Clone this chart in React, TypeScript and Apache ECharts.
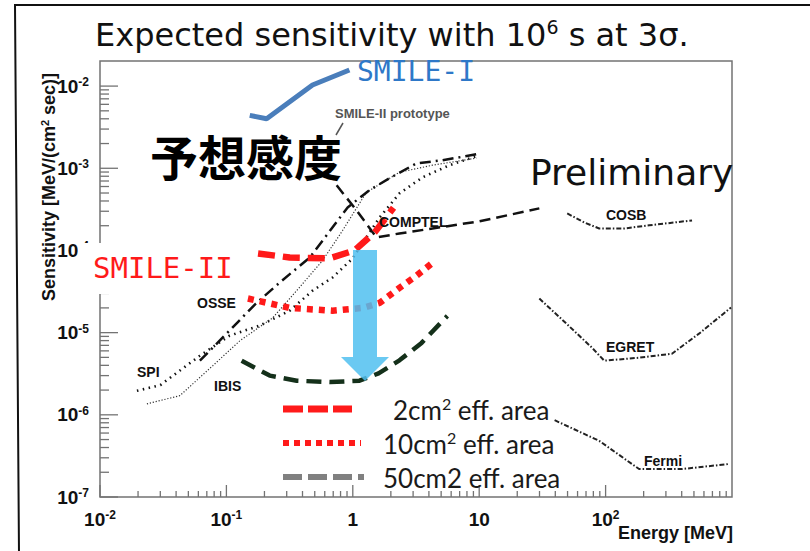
import React, { useEffect, useRef } from "react";
import * as echarts from "echarts";

// ---------- data (Energy [MeV], Sensitivity [MeV/(cm^2 s)]) ----------
const SMILE1_E = [0.153, 0.208, 0.48, 0.94];
const SMILE1_S = [4.4e-3, 4.0e-3, 1.03e-2, 1.57e-2];

const SMILE2_2CM_E = [0.178, 0.317, 0.656, 1.03, 1.49, 2.1];
const SMILE2_2CM_S = [9.2e-5, 8.2e-5, 8.0e-5, 1.0e-4, 1.66e-4, 3.3e-4];

const SMILE2_10CM_E = [0.148, 0.317, 0.69, 1.2, 1.63, 2.34, 3.2, 4.19];
const SMILE2_10CM_S = [2.6e-5, 2.0e-5, 1.85e-5, 2.0e-5, 2.3e-5, 3.5e-5, 4.95e-5, 6.9e-5];

const SMILE2_50CM_E = [0.132, 0.17, 0.22, 0.36, 0.66, 1.13, 1.6, 2.34, 3.5, 5.6];
const SMILE2_50CM_S = [4.56e-6, 3.7e-6, 3.0e-6, 2.6e-6, 2.5e-6, 2.6e-6, 3.2e-6, 4.6e-6, 7.5e-6, 1.6e-5];

const SPI_E = [0.0196, 0.03, 0.0617, 0.106, 0.184, 0.317, 0.481, 0.692, 0.996, 1.63, 2.34, 3.56, 5.82, 10.0];
const SPI_S = [1.96e-6, 2.3e-6, 5.24e-6, 9.19e-6, 1.22e-5, 1.85e-5, 3.25e-5, 4.69e-5, 8.0e-5, 2.52e-4, 4.95e-4, 7.76e-4, 1.09e-3, 1.44e-3];

const IBIS_E = [0.0235, 0.0428, 0.078, 0.128, 0.233, 0.36, 0.577, 0.83, 1.28, 2.34, 4.27, 9.5];
const IBIS_S = [1.36e-6, 1.71e-6, 3.96e-6, 7.98e-6, 1.52e-5, 3.25e-5, 7.55e-5, 1.75e-4, 5.09e-4, 8.94e-4, 1.09e-3, 1.33e-3];

const OSSE_E = [0.0617, 0.106, 0.171, 0.264, 0.456, 0.577, 0.91, 1.35, 1.95, 3.19, 5.12, 9.5];
const OSSE_S = [4.56e-6, 1.06e-5, 2.26e-5, 4.07e-5, 8.2e-5, 1.32e-4, 3.34e-4, 5.4e-4, 7.55e-4, 1.15e-3, 1.25e-3, 1.48e-3];

const COMPTEL_E = [0.745, 1.07, 1.54, 2.34, 4.27, 10, 29.9];
const COMPTEL_S = [6.2e-4, 3.08e-4, 1.44e-4, 1.61e-4, 1.85e-4, 2.26e-4, 3.25e-4];

const COSB_E = [49.7, 67.8, 89, 140, 221, 483];
const COSB_S = [2.82e-4, 2.19e-4, 1.85e-4, 1.85e-4, 2.02e-4, 2.32e-4];

const EGRET_E = [29.9, 48.9, 78, 97.5, 184, 335, 548, 982];
const EGRET_S = [2.6e-5, 1.29e-5, 6.56e-6, 4.56e-6, 4.95e-6, 5.54e-6, 9.72e-6, 2.02e-5];

const FERMI_E = [39.5, 89, 184, 403, 946];
const FERMI_S = [8.6e-7, 4.82e-7, 2.19e-7, 2.19e-7, 2.52e-7];

// axes
const X_MIN = 0.01;
const X_MAX = 1000;
const Y_MIN = 1e-7;
const Y_MAX = 0.0202;
const X_DECADES = [0.01, 0.1, 1, 10, 100];
const Y_DECADES = [1e-7, 1e-6, 1e-5, 1e-4, 1e-3, 1e-2];
const MINOR_STEPS = [2, 3, 4, 5, 6, 7, 8, 9];
const X_TICK_LABELS: Record<number, string> = {
  [-2]: "{b|10}{s|-2}",
  [-1]: "{b|10}{s|-1}",
  0: "{b|1}",
  1: "{b|10}",
  2: "{b|10}{s|2}",
};
const Y_TICK_LABELS: Record<number, string> = {
  [-7]: "{b|10}{s|-7}",
  [-6]: "{b|10}{s|-6}",
  [-5]: "{b|10}{s|-5}",
  [-4]: "{b|10}{s|-4}",
  [-3]: "{b|10}{s|-3}",
  [-2]: "{b|10}{s|-2}",
};

const ARIAL = '"Liberation Sans", Arial, sans-serif';
const SANS = '"DejaVu Sans", sans-serif';
const MONO = '"DejaVu Sans Mono", monospace';
const CAL = 'Lato, "Open Sans", sans-serif';
const CJK = '"Noto Sans CJK JP", "Noto Sans CJK SC", sans-serif';

const zip = (a: number[], b: number[]) => a.map((v, i) => [v, b[i]]);

const tickRich = {
  b: { fontFamily: ARIAL, fontWeight: "bold", fontSize: 19, color: "#111", lineHeight: 20 },
  s: { fontFamily: ARIAL, fontWeight: "bold", fontSize: 12, color: "#111", verticalAlign: "top", lineHeight: 12 },
};

function fmt(table: Record<number, string>) {
  return (v: number) => {
    const e = Math.log10(v);
    const r = Math.round(e);
    if (Math.abs(e - r) > 1e-6) return "";
    return table[r] ?? "";
  };
}

function buildTicks() {
  const d: number[][] = [];
  X_DECADES.forEach((dec) => {
    d.push([dec, Y_MIN, 0]);
    MINOR_STEPS.forEach((m) => d.push([dec * m, Y_MIN, 1]));
  });
  Y_DECADES.forEach((dec) => {
    d.push([X_MIN, dec, 2]);
    MINOR_STEPS.forEach((m) => {
      if (dec * m < Y_MAX * 0.97) d.push([X_MIN, dec * m, 3]);
    });
  });
  return d;
}

function lineSeries(name: string, E: number[], S: number[], color: string, width: number, dash: any, z = 3) {
  return {
    name,
    type: "line",
    data: zip(E, S),
    showSymbol: false,
    symbol: "none",
    smooth: false,
    z,
    lineStyle: { color, width, type: dash, cap: "butt" },
  };
}

export default function App() {
  const ref = useRef<HTMLDivElement>(null);
  useEffect(() => {
    if (!ref.current) return;
    const chart = echarts.init(ref.current, null, { renderer: "svg" });
    const labelStyle = (text: string, x: number, y: number) => ({
      type: "text",
      x,
      y,
      z: 100,
      style: { text, fill: "#111", font: `bold 14px ${ARIAL}`, verticalAlign: "middle" },
    });
    const legendRich = {
      t: { fontFamily: CAL, fontSize: 26, fill: "#1a1a1a", lineHeight: 29 },
      s: { fontFamily: CAL, fontSize: 16, fill: "#1a1a1a", verticalAlign: "top", lineHeight: 16 },
    };
    const option: any = {
      animation: false,
      backgroundColor: "#fff",
      grid: {
        left: 100,
        right: 78,
        top: 61,
        bottom: 54,
        show: true,
        borderColor: "#737373",
        borderWidth: 1.5,
        backgroundColor: "transparent",
      },
      xAxis: {
        type: "log",
        logBase: 10,
        min: X_MIN,
        max: X_MAX,
        axisLine: { show: false },
        axisTick: { show: false },
        splitLine: { show: false },
        axisLabel: { margin: 12, formatter: fmt(X_TICK_LABELS), rich: tickRich, showMaxLabel: false },
      },
      yAxis: {
        type: "log",
        logBase: 10,
        min: Y_MIN,
        max: Y_MAX,
        axisLine: { show: false },
        axisTick: { show: false },
        splitLine: { show: false },
        axisLabel: { margin: 11, formatter: fmt(Y_TICK_LABELS), rich: tickRich },
      },
      series: [
        {
          type: "custom",
          silent: true,
          z: 2,
          renderItem: (params: any, api: any) => {
            const kind = api.value(2);
            const p = api.coord([api.value(0), api.value(1)]);
            let shape;
            if (kind === 0) shape = { x1: p[0], y1: p[1], x2: p[0], y2: p[1] - 12 };
            else if (kind === 1) shape = { x1: p[0], y1: p[1], x2: p[0], y2: p[1] - 6 };
            else if (kind === 2) shape = { x1: p[0], y1: p[1], x2: p[0] + 18, y2: p[1] };
            else shape = { x1: p[0], y1: p[1], x2: p[0] + 9, y2: p[1] };
            return { type: "line", shape, style: { stroke: "#737373", lineWidth: 1.3 } };
          },
          data: buildTicks(),
        },
        lineSeries("SPI", SPI_E, SPI_S, "#111", 2.6, [1.5, 4.5]),
        lineSeries("IBIS", IBIS_E, IBIS_S, "#333", 1.2, [1.2, 1.8]),
        lineSeries("OSSE", OSSE_E, OSSE_S, "#111", 2.5, [11, 5, 2, 5]),
        lineSeries("COMPTEL", COMPTEL_E, COMPTEL_S, "#111", 2.5, [11, 6]),
        lineSeries("COSB", COSB_E, COSB_S, "#222", 2, [5, 2, 1.5, 2]),
        lineSeries("EGRET", EGRET_E, EGRET_S, "#222", 2, [5, 2, 1.5, 2]),
        lineSeries("Fermi", FERMI_E, FERMI_S, "#222", 2, [5, 2, 1.5, 2]),
        lineSeries("SMILE-I", SMILE1_E, SMILE1_S, "#4a7ebb", 5, "solid", 4),
        lineSeries("2cm2", SMILE2_2CM_E, SMILE2_2CM_S, "#ff1a1a", 6.5, [17, 8], 4),
        lineSeries("10cm2", SMILE2_10CM_E, SMILE2_10CM_S, "#ff1a1a", 6.5, [6, 6], 4),
        lineSeries("50cm2", SMILE2_50CM_E, SMILE2_50CM_S, "#14301a", 4.5, [15, 8], 4),
      ],
      graphic: [
        // outer frame
        {
          type: "polyline",
          z: 100,
          shape: { points: [[815, 5], [15, 5], [19, 555]] },
          style: { stroke: "#111", lineWidth: 2, fill: null },
        },
        // title
        {
          type: "text",
          x: 95,
          y: 35,
          z: 100,
          style: {
            text: "{a|Expected sensitivity with 10}{p|6}{a| s at 3σ.}",
            verticalAlign: "middle",
            rich: {
              a: { fontFamily: SANS, fontSize: 32, fill: "#111", lineHeight: 36 },
              p: { fontFamily: SANS, fontSize: 19, fill: "#111", verticalAlign: "top", lineHeight: 19 },
            },
          },
        },
        // y axis name
        {
          type: "text",
          x: 49,
          y: 187,
          rotation: Math.PI / 2,
          z: 100,
          style: {
            text: "{n|Sensitivity [MeV/(cm}{s|2}{n| sec)]}",
            align: "center",
            verticalAlign: "middle",
            rich: {
              n: { fontFamily: ARIAL, fontWeight: "bold", fontSize: 18, fill: "#111", lineHeight: 20 },
              s: { fontFamily: ARIAL, fontWeight: "bold", fontSize: 11, fill: "#111", verticalAlign: "top", lineHeight: 11 },
            },
          },
        },
        // x axis name
        {
          type: "text",
          x: 733,
          y: 533,
          z: 100,
          style: { text: "Energy [MeV]", fill: "#111", font: `bold 18px ${ARIAL}`, align: "right", verticalAlign: "middle" },
        },
        // big annotations
        {
          type: "text",
          x: 150,
          y: 155,
          z: 100,
          style: { text: "予想感度", fill: "#000", font: `bold 48px ${CJK}`, verticalAlign: "middle" },
        },
        {
          type: "text",
          x: 530,
          y: 172,
          z: 100,
          style: { text: "Preliminary", fill: "#111", font: `36px ${SANS}`, verticalAlign: "middle" },
        },
        {
          type: "text",
          x: 357,
          y: 71,
          z: 100,
          style: { text: "SMILE-I", fill: "#2e78c8", font: `28px ${MONO}`, verticalAlign: "middle" },
        },
        {
          type: "text",
          x: 335,
          y: 113,
          z: 100,
          style: { text: "SMILE-II prototype", fill: "#555", font: `bold 13px ${ARIAL}`, verticalAlign: "middle" },
        },
        {
          type: "line",
          z: 100,
          shape: { x1: 343, y1: 123, x2: 336, y2: 135 },
          style: { stroke: "#555", lineWidth: 1.5 },
        },
        // SMILE-II label on white box
        { type: "rect", z: 100, shape: { x: 78, y: 243, width: 164, height: 51 }, style: { fill: "#fff" } },
        {
          type: "text",
          x: 93,
          y: 268,
          z: 101,
          style: { text: "SMILE-II", fill: "#ff1a1a", font: `29px ${MONO}`, verticalAlign: "middle" },
        },
        // instrument labels
        labelStyle("SPI", 137, 372),
        labelStyle("IBIS", 214, 386),
        labelStyle("OSSE", 197, 303),
        labelStyle("COMPTEL", 379, 222),
        labelStyle("COSB", 606, 215),
        labelStyle("EGRET", 606, 347),
        labelStyle("Fermi", 644, 461),
        // arrow
        {
          type: "polygon",
          z: 110,
          shape: {
            points: [
              [353, 250],
              [377, 250],
              [377, 357],
              [389, 357],
              [365, 381],
              [341, 357],
              [353, 357],
            ],
          },
          style: { fill: "rgba(80,192,240,0.85)" },
        },
        // legend
        {
          type: "line",
          z: 100,
          shape: { x1: 283, y1: 409, x2: 352, y2: 409 },
          style: { stroke: "#ff1a1a", lineWidth: 7, lineDash: [20, 5] },
        },
        {
          type: "line",
          z: 100,
          shape: { x1: 283, y1: 443, x2: 361, y2: 443 },
          style: { stroke: "#ff1a1a", lineWidth: 6, lineDash: [6, 5] },
        },
        {
          type: "line",
          z: 100,
          shape: { x1: 283, y1: 477, x2: 364, y2: 477 },
          style: { stroke: "#808080", lineWidth: 6, lineDash: [19, 6] },
        },
        {
          type: "text",
          x: 393,
          y: 410,
          z: 100,
          style: { text: "{t|2cm}{s|2}{t| eff. area}", verticalAlign: "middle", rich: legendRich },
        },
        {
          type: "text",
          x: 383,
          y: 444,
          z: 100,
          style: { text: "{t|10cm}{s|2}{t| eff. area}", verticalAlign: "middle", rich: legendRich },
        },
        {
          type: "text",
          x: 383,
          y: 478,
          z: 100,
          style: { text: "50cm2 eff. area", fill: "#1a1a1a", font: `26px ${CAL}`, verticalAlign: "middle" },
        },
      ],
    };
    chart.setOption(option);
    return () => chart.dispose();
  }, []);
  return (
    <div
      ref={ref}
      style={{ position: "fixed", left: 0, top: 0, width: 810, height: 551, background: "#fff" }}
    />
  );
}
